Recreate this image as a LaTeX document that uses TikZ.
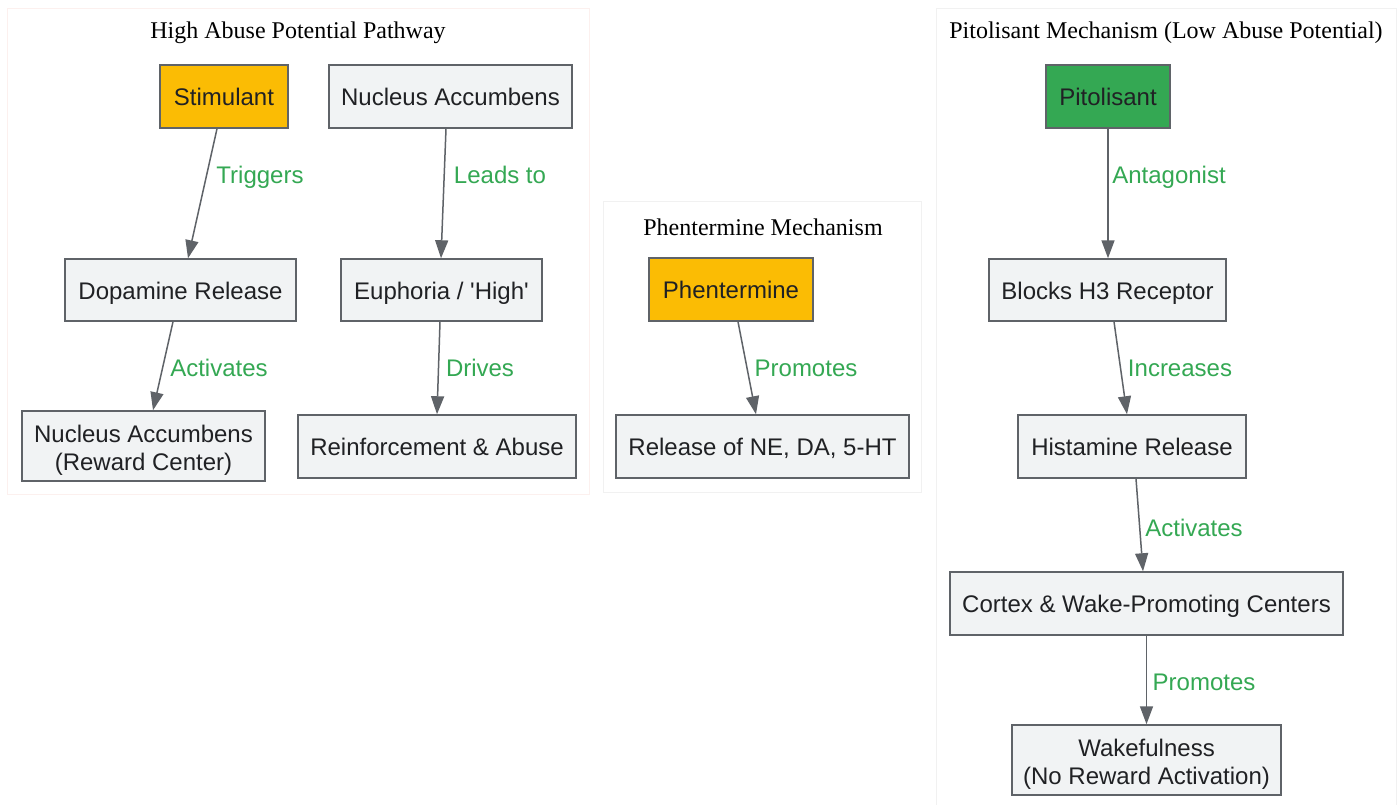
\documentclass[tikz,border=0pt]{standalone}
\usepackage{fontspec}
\setmainfont{Liberation Serif}
\newfontfamily\sansf{Liberation Sans}
\usetikzlibrary{arrows.meta}
\definecolor{edgec}{HTML}{5F6368}
\definecolor{boxfill}{HTML}{F1F3F4}
\definecolor{txtc}{HTML}{202124}
\definecolor{amber}{HTML}{FBBC04}
\definecolor{gfill}{HTML}{34A853}
\definecolor{lblc}{HTML}{34A853}
\definecolor{clpink}{HTML}{FCF0EE}
\definecolor{clgray}{HTML}{F1F1F1}
\tikzset{
  box/.style={draw=edgec, line width=1.5pt, fill=boxfill, text=txtc, inner sep=0pt,
    font=\sansf\fontsize{24}{28}\selectfont, align=center, text height=23.5pt, text depth=5pt},
  twoline/.style={text height=53.5pt, text depth=5pt},
  amberbox/.style={box, fill=amber},
  greenbox/.style={box, fill=gfill},
  conn/.style={draw=edgec, line width=1.5pt, -{Triangle[length=18pt,width=13pt]}},
  lbl/.style={text=lblc, font=\sansf\fontsize{24}{28}\selectfont, inner sep=0pt, text height=17.5pt, text depth=0pt},
  cltitle/.style={font=\fontsize{24}{28}\selectfont, text=black, inner sep=0pt},
  clbox/.style={line width=1pt}
}
\begin{document}
\begin{tikzpicture}[x=1pt,y=-1pt]
\useasboundingbox (0,0) rectangle (1399,804);
\fill[white] (0,0) rectangle (1399,804);
% clusters
\draw[clbox, draw=clpink] (7,8) rectangle (589,494);
\draw[clbox, draw=clgray] (603,201) rectangle (921,492);
\draw[clbox, draw=clgray] (936,8) rectangle (1396,812);
\node[cltitle] (t1) at (298,33) {High Abuse Potential Pathway};
\node[cltitle] (t2) at (763,227) {Phentermine Mechanism};
\node[cltitle] (t3) at (1166,33) {Pitolisant Mechanism (Low Abuse Potential)};
% nodes
\node[amberbox, minimum width=128pt, minimum height=63pt] (stim) at (224,96.5) {Stimulant};
\node[box, minimum width=243pt, minimum height=63pt] (nat) at (450.5,96.5) {Nucleus Accumbens};
\node[box, minimum width=231pt, minimum height=62pt] (dop) at (180.5,290) {Dopamine Release};
\node[box, minimum width=201pt, minimum height=62pt] (eup) at (441.5,290) {Euphoria / 'High'};
\node[box, twoline, minimum width=243pt, minimum height=70pt] (nar) at (143.5,446) {Nucleus Accumbens\\(Reward Center)};
\node[box, minimum width=278pt, minimum height=63pt] (rei) at (437,446.5) {Reinforcement \& Abuse};
\node[amberbox, minimum width=164pt, minimum height=63pt] (phe) at (731,289.5) {Phentermine};
\node[box, minimum width=293pt, minimum height=63pt] (rel) at (762.5,446.5) {Release of NE, DA, 5-HT};
\node[greenbox, minimum width=124pt, minimum height=63pt] (pit) at (1108,96.5) {Pitolisant};
\node[box, minimum width=237pt, minimum height=62pt] (blk) at (1107.5,290) {Blocks H3 Receptor};
\node[box, minimum width=228pt, minimum height=63pt] (his) at (1132,446.5) {Histamine Release};
\node[box, minimum width=393pt, minimum height=63pt] (cor) at (1146.5,603.5) {Cortex \& Wake-Promoting Centers};
\node[box, twoline, minimum width=269pt, minimum height=70pt] (wak) at (1146.5,760) {Wakefulness\\(No Reward Activation)};
% connectors
\draw[conn] ([xshift=-7pt]stim.south) -- ([xshift=7.5pt]dop.north);
\draw[conn] ([xshift=-4.5pt]nat.south) -- ([xshift=-0.5pt]eup.north);
\draw[conn] ([xshift=-7.5pt]dop.south) -- ([xshift=9.5pt]nar.north);
\draw[conn] ([xshift=-1.5pt]eup.south) -- (rei.north);
\draw[conn] ([xshift=7pt]phe.south) -- ([xshift=-6.5pt]rel.north);
\draw[conn] (pit.south) -- ([xshift=0.5pt]blk.north);
\draw[conn] ([xshift=6.5pt]blk.south) -- ([xshift=-5pt]his.north);
\draw[conn] ([xshift=4pt]his.south) -- ([xshift=-3.5pt]cor.north);
\draw[conn] (cor.south) -- (wak.north);
% labels
\node[lbl] (l1) at (260,175) {Triggers};
\node[lbl] (l2) at (500,175) {Leads to};
\node[lbl] (l3) at (219,368) {Activates};
\node[lbl] (l4) at (480,368) {Drives};
\node[lbl] (l5) at (806,368) {Promotes};
\node[lbl] (l6) at (1169,175) {Antagonist};
\node[lbl] (l7) at (1180,368) {Increases};
\node[lbl] (l8) at (1194,528) {Activates};
\node[lbl] (l9) at (1204,682) {Promotes};
\end{tikzpicture}
\end{document}
